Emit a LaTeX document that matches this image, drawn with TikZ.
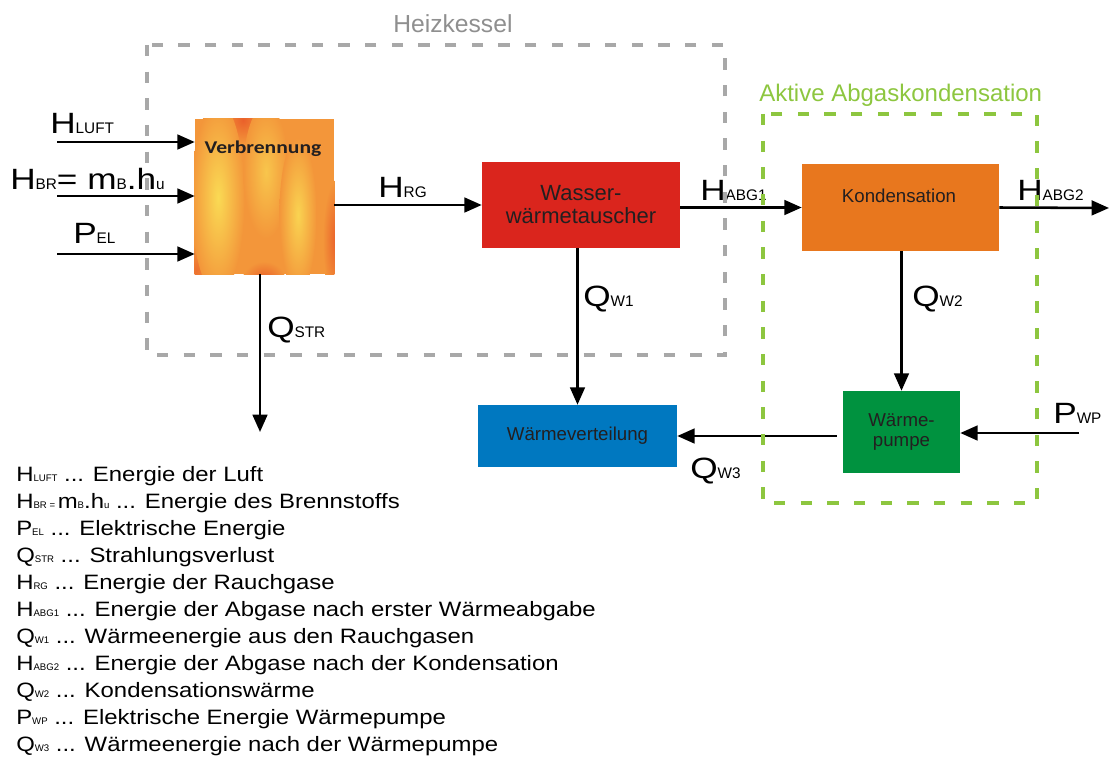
\documentclass[tikz,border=0pt]{standalone}
\usepackage{fontspec}
\setmainfont{Liberation Sans}
\newfontfamily\symfont{Liberation Sans}[FakeStretch=1.2]
\newfontfamily\legfont{Liberation Sans}[FakeStretch=1.15]
\newfontfamily\flamefont{Carlito}[FakeStretch=1.2]
\usetikzlibrary{arrows.meta}
\definecolor{kesselgray}{RGB}{168,168,168}
\definecolor{abggreen}{RGB}{141,198,63}
\definecolor{heatred}{RGB}{218,37,29}
\definecolor{kondorange}{RGB}{232,119,30}
\definecolor{verteilblue}{RGB}{0,120,192}
\definecolor{pumpgreen}{RGB}{0,146,63}
\definecolor{flameorange}{RGB}{243,150,58}
\definecolor{flameyellow}{RGB}{250,218,84}
\definecolor{flamered}{RGB}{234,96,42}
\definecolor{inktext}{RGB}{35,31,32}
\newcommand{\ixsize}{11.5}
\newcommand{\ix}[1]{{\rmfamily\fontsize{\ixsize}{\ixsize}\selectfont #1}}
\newcommand{\threedots}{...}

\begin{document}
\begin{tikzpicture}[x=0.75pt,y=-0.75pt,
   flow/.style={-{Triangle[length=13pt,width=11pt]},line width=1.9pt},
   sym/.style={font={\def\ixsize{11.5}\symfont\fontsize{22}{26}\selectfont},anchor=base west,inner sep=0pt},
   legend/.style={font={\def\ixsize{7.2}\legfont\fontsize{15.6}{18}\selectfont},anchor=base west,inner sep=0pt},
   unit/.style={rectangle,inner sep=0pt,text=inktext,align=center},
   frame/.style={line width=3.2pt,dash pattern=on 8.5pt off 11.5pt}]
   \useasboundingbox (0,0) rectangle (1109,756);

   \node (verb) at (264.5,196.5) [unit,fill=flameorange,minimum width=104.25pt,minimum height=116.25pt] {};
   \begin{scope}
      \clip (verb.south west) rectangle (verb.north east);
      \shade[inner color=flamered,outer color=flameorange] (243,120) ellipse [x radius=16pt,y radius=18pt];
      \shade[inner color=flamered,outer color=flameorange] (264,280) ellipse [x radius=16pt,y radius=14pt];
      \shade[inner color=flamered,outer color=flameorange] (336,240) ellipse [x radius=10pt,y radius=45pt];
      \shade[inner color=flamered!70!flameorange,outer color=flameorange] (196,270) ellipse [x radius=12pt,y radius=20pt];
      \shade[inner color=flameyellow,outer color=flameorange] (218,198) ellipse [x radius=20pt,y radius=72pt];
      \shade[inner color=flameyellow!70!flameorange,outer color=flameorange] (266,172) ellipse [x radius=17pt,y radius=50pt];
      \shade[inner color=flameyellow!90!flameorange,outer color=flameorange] (298,215) ellipse [x radius=14pt,y radius=58pt];
   \end{scope}
   \node (verbtxt) at (263,153) [anchor=base,inner sep=0pt,text=inktext,font=\flamefont\bfseries\fontsize{13.5}{16}\selectfont] {Verbrennung};

   \node (wasser) at (581,205) [unit,fill=heatred,minimum width=148.5pt,minimum height=64.5pt,font=\fontsize{16.5}{17.25}\selectfont] {Wasser-\\wärmetauscher};
   \node (kond) at (900.5,207.5) [unit,fill=kondorange,minimum width=147.75pt,minimum height=65.25pt] {};
   \node (kondtxt) at (899,202) [anchor=base,inner sep=0pt,text=inktext,font=\fontsize{14}{16}\selectfont] {Kondensation};
   \node (verteil) at (577.5,436) [unit,fill=verteilblue,minimum width=149.25pt,minimum height=46.5pt,font=\fontsize{14}{16}\selectfont] {Wärmeverteilung};
   \node (pumpe) at (901.5,432) [unit,fill=pumpgreen,minimum width=87.75pt,minimum height=61.5pt,font=\fontsize{14}{15}\selectfont] {Wärme-\\pumpe};

   \coordinate (luftin) at (57,142);
   \coordinate (brin) at (57,196);
   \coordinate (elin) at (57,254);
   \coordinate (strout) at (260,432);
   \coordinate (abgout) at (1109,208);
   \coordinate (wpin) at (1079,433);

   \draw[flow] (luftin) to (luftin -| verb.west);
   \draw[flow] (brin) to (brin -| verb.west);
   \draw[flow] (elin) to (elin -| verb.west);
   \draw[flow] (strout |- verb.south) to (strout);
   \draw[flow] (verb.east |- wasser.west) to (wasser.west);
   \draw[flow] (wasser.east |- kond.west) to (kond.west);
   \draw[flow] (kond.east) to (abgout);
   \draw[flow] (verteil.north |- wasser.south) to (verteil.north);
   \draw[flow] (pumpe.north |- kond.south) to (pumpe.north);
   \draw[flow] (wpin) to (wpin -| pumpe.east);
   \draw[flow,shorten <=4.5pt] (pumpe.west |- verteil.east) to (verteil.east);

   \node (hluft) at (50,134) [sym] {H\ix{LUFT}};
   \node (hbr) at (10,190) [sym] {H\ix{BR}= m\ix{B}.h\ix{u}};
   \node (pel) at (73,243) [sym] {P\ix{EL}};
   \node (qstr) at (267,337) [sym] {Q\ix{STR}};
   \node (hrg) at (378,197) [sym] {H\ix{RG}};
   \node (qw1) at (583,306) [sym] {Q\ix{W1}};
   \node (habg1) at (700,200) [sym] {H\ix{ABG1}};
   \node (habg2) at (1017,200) [sym] {H\ix{ABG2}};
   \node (qw2) at (912,306) [sym] {Q\ix{W2}};
   \node (pwp) at (1053,423) [sym] {P\ix{WP}};
   \node (qw3) at (690,478) [sym] {Q\ix{W3}};

   \draw[frame,kesselgray] (147,45) rectangle (725,355);
   \draw[frame,abggreen] (763,114) rectangle (1037,503);
   \node (kessel) at (393,33) [anchor=base west,inner sep=0pt,text=kesselgray!85!black,font=\fontsize{18.5}{20}\selectfont] {Heizkessel};
   \node (abgkond) at (759,102) [anchor=base west,inner sep=0pt,text=abggreen,font=\fontsize{18}{20}\selectfont] {Aktive Abgaskondensation};

   \foreach \txt [count=\k] in {
      {H\ix{LUFT} \threedots{} Energie der Luft},
      {H\ix{BR = }m\ix{B}.h\ix{u} \threedots{} Energie des Brennstoffs},
      {P\ix{EL} \threedots{} Elektrische Energie},
      {Q\ix{STR} \threedots{} Strahlungsverlust},
      {H\ix{RG} \threedots{} Energie der Rauchgase},
      {H\ix{ABG1} \threedots{} Energie der Abgase nach erster Wärmeabgabe},
      {Q\ix{W1} \threedots{} Wärmeenergie aus den Rauchgasen},
      {H\ix{ABG2} \threedots{} Energie der Abgase nach der Kondensation},
      {Q\ix{W2} \threedots{} Kondensationswärme},
      {P\ix{WP} \threedots{} Elektrische Energie Wärmepumpe},
      {Q\ix{W3} \threedots{} Wärmeenergie nach der Wärmepumpe}}
      \node (leg\k) at (16,{481+27*(\k-1)}) [legend] {\txt};
\end{tikzpicture}
\end{document}
